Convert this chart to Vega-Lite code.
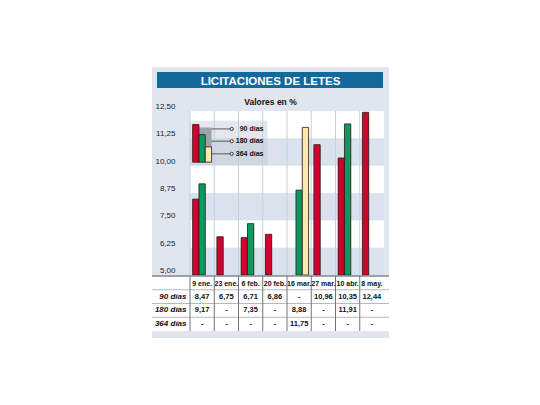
{
  "$schema": "https://vega.github.io/schema/vega-lite/v6.json",
  "width": 237,
  "height": 271,
  "autosize": {"type": "none"},
  "padding": {"left": 152, "top": 67, "right": 0, "bottom": 0},
  "background": "white",
  "config": {
    "view": {"fill": "#e1e6ee", "stroke": null},
    "font": "Liberation Sans",
    "locale": {"number": {"decimal": ",", "thousands": ".", "grouping": [3], "currency": ["", ""]}}
  },
  "title": {
    "text": "LICITACIONES DE LETES",
    "subtitle": "Valores en %",
    "anchor": "middle",
    "frame": "group",
    "offset": -39,
    "font": "Liberation Sans",
    "fontSize": 11.5,
    "fontWeight": "bold",
    "color": "white",
    "subtitleFont": "Liberation Sans",
    "subtitleFontSize": 8.5,
    "subtitleFontWeight": "bold",
    "subtitleColor": "#111111",
    "subtitlePadding": 10
  },
  "datasets": {
    "letes": [
      {"date": "9 ene.", "series": "90 días", "value": 8.47},
      {"date": "9 ene.", "series": "180 días", "value": 9.17},
      {"date": "9 ene.", "series": "364 días", "value": null},
      {"date": "23 ene.", "series": "90 días", "value": 6.75},
      {"date": "23 ene.", "series": "180 días", "value": null},
      {"date": "23 ene.", "series": "364 días", "value": null},
      {"date": "6 feb.", "series": "90 días", "value": 6.71},
      {"date": "6 feb.", "series": "180 días", "value": 7.35},
      {"date": "6 feb.", "series": "364 días", "value": null},
      {"date": "20 feb.", "series": "90 días", "value": 6.86},
      {"date": "20 feb.", "series": "180 días", "value": null},
      {"date": "20 feb.", "series": "364 días", "value": null},
      {"date": "16 mar.", "series": "90 días", "value": null},
      {"date": "16 mar.", "series": "180 días", "value": 8.88},
      {"date": "16 mar.", "series": "364 días", "value": 11.75},
      {"date": "27 mar.", "series": "90 días", "value": 10.96},
      {"date": "27 mar.", "series": "180 días", "value": null},
      {"date": "27 mar.", "series": "364 días", "value": null},
      {"date": "10 abr.", "series": "90 días", "value": 10.35},
      {"date": "10 abr.", "series": "180 días", "value": 11.91},
      {"date": "10 abr.", "series": "364 días", "value": null},
      {"date": "8 may.", "series": "90 días", "value": 12.44},
      {"date": "8 may.", "series": "180 días", "value": null},
      {"date": "8 may.", "series": "364 días", "value": null}
    ]
  },
  "data": {"name": "letes"},
  "resolve": {"scale": {"x": "independent", "y": "independent"}, "axis": {"x": "independent", "y": "independent"}},
  "layer": [
    {
      "transform": [{"filter": "datum.date === '9 ene.' && datum.series === '90 días'"}],
      "mark": {"type": "rect", "fill": "#12699a"},
      "encoding": {
        "x": {"datum": "bar", "type": "nominal", "scale": {"type": "band", "domain": ["bar"], "range": [5, 231], "paddingInner": 0, "paddingOuter": 0}, "axis": null},
        "y": {"datum": "bar", "type": "nominal", "scale": {"type": "band", "domain": ["bar"], "range": [5, 21], "paddingInner": 0, "paddingOuter": 0}, "axis": null}
      }
    },
    {
      "layer": [
        {
          "transform": [{"filter": "datum.series === '90 días'"}],
          "mark": {"type": "rect", "fill": "#ffffff"},
          "encoding": {
            "x": {"field": "date", "type": "nominal", "scale": {"type": "band", "domain": ["9 ene.", "23 ene.", "6 feb.", "20 feb.", "16 mar.", "27 mar.", "10 abr.", "8 may."], "range": [38, 232], "paddingInner": 0, "paddingOuter": 0}, "axis": null},
            "y": {"datum": 5, "type": "quantitative", "scale": {"domain": [5, 12.5], "range": [208, 44], "zero": false, "nice": false},
              "axis": {"orient": "left", "offset": -23, "values": [5, 6.25, 7.5, 8.75, 10, 11.25, 12.5], "format": ".2f", "labelPadding": 0, "ticks": false, "domain": false, "grid": false, "labelFontSize": 8, "labelColor": "#1a1a1a", "labelBaseline": "alphabetic", "labelOffset": -2.5, "labelOverlap": false, "title": null}},
            "y2": {"datum": 12.5}
          }
        },
        {
          "transform": [{"filter": "datum.series === '90 días'"}],
          "mark": {"type": "rect", "fill": "#d9e2ed"},
          "encoding": {"x": {"field": "date", "type": "nominal", "axis": null}, "y": {"datum": 5, "type": "quantitative"}, "y2": {"datum": 6.25}}
        },
        {
          "transform": [{"filter": "datum.series === '90 días'"}],
          "mark": {"type": "rect", "fill": "#d9e2ed"},
          "encoding": {"x": {"field": "date", "type": "nominal", "axis": null}, "y": {"datum": 7.5, "type": "quantitative"}, "y2": {"datum": 8.75}}
        },
        {
          "transform": [{"filter": "datum.series === '90 días'"}],
          "mark": {"type": "rect", "fill": "#d9e2ed"},
          "encoding": {"x": {"field": "date", "type": "nominal", "axis": null}, "y": {"datum": 10, "type": "quantitative"}, "y2": {"datum": 11.25}}
        },
        {
          "transform": [{"filter": "datum.series === '90 días'"}],
          "mark": {"type": "rule", "stroke": "#c0d2e6", "strokeWidth": 1},
          "encoding": {
            "x": {"field": "date", "type": "nominal", "bandPosition": 0, "axis": null},
            "y": {"datum": 5, "type": "quantitative"},
            "y2": {"datum": 12.5}
          }
        },
        {
          "transform": [{"filter": "datum.date === '9 ene.' && datum.series === '90 días'"}],
          "mark": {"type": "rect", "fill": "#c4cad4", "opacity": 0.45},
          "encoding": {
            "x": {"datum": "9 ene.", "type": "nominal", "bandPosition": 0, "axis": null},
            "x2": {"datum": "20 feb.", "bandPosition": 0.2},
            "y": {"datum": 12.05, "type": "quantitative"},
            "y2": {"datum": 10.03}
          }
        },
        {
          "transform": [{"filter": "datum.date === '9 ene.' && datum.series === '90 días'"}],
          "mark": {"type": "rule", "stroke": "#555a60", "strokeWidth": 1},
          "encoding": {"x": {"datum": "9 ene.", "type": "nominal", "bandPosition": 0.5, "axis": null}, "x2": {"datum": "23 ene.", "bandPosition": 0.72}, "y": {"datum": 11.68, "type": "quantitative"}}
        },
        {
          "transform": [{"filter": "datum.date === '9 ene.' && datum.series === '90 días'"}],
          "mark": {"type": "rule", "stroke": "#555a60", "strokeWidth": 1},
          "encoding": {"x": {"datum": "9 ene.", "type": "nominal", "bandPosition": 0.5, "axis": null}, "x2": {"datum": "23 ene.", "bandPosition": 0.72}, "y": {"datum": 11.12, "type": "quantitative"}}
        },
        {
          "transform": [{"filter": "datum.date === '9 ene.' && datum.series === '90 días'"}],
          "mark": {"type": "rule", "stroke": "#555a60", "strokeWidth": 1},
          "encoding": {"x": {"datum": "9 ene.", "type": "nominal", "bandPosition": 0.5, "axis": null}, "x2": {"datum": "23 ene.", "bandPosition": 0.72}, "y": {"datum": 10.54, "type": "quantitative"}}
        },
        {
          "transform": [{"filter": "isValid(datum.value)"}],
          "mark": {"type": "bar", "fill": "#9ea3ab", "xOffset": 3, "yOffset": 3},
          "encoding": {
            "x": {"field": "date", "type": "nominal", "axis": null},
            "xOffset": {"field": "series", "type": "nominal", "scale": {"domain": ["90 días", "180 días", "364 días"], "paddingInner": 0, "paddingOuter": 0.42}},
            "y": {"field": "value", "type": "quantitative", "title": null},
            "y2": {"datum": 5}
          }
        },
        {
          "transform": [{"filter": "isValid(datum.value)"}],
          "mark": {"type": "bar", "stroke": "#2b1b1b", "strokeWidth": 0.8},
          "encoding": {
            "x": {"field": "date", "type": "nominal", "axis": null},
            "xOffset": {"field": "series", "type": "nominal"},
            "y": {"field": "value", "type": "quantitative", "title": null},
            "y2": {"datum": 5},
            "fill": {"field": "series", "type": "nominal", "scale": {"domain": ["90 días", "180 días", "364 días"], "range": ["#d2002c", "#0a9a5e", "#fbe8ad"]}, "legend": null}
          }
        },
        {
          "transform": [{"filter": "datum.date === '9 ene.'"}],
          "mark": {"type": "bar", "fill": "#9ea3ab", "xOffset": 3, "yOffset": 3},
          "encoding": {
            "x": {"datum": "9 ene.", "type": "nominal", "axis": null},
            "xOffset": {"field": "series", "type": "nominal"},
            "y": {"datum": 11.88, "type": "quantitative"},
            "y2": {"datum": 10.16}
          }
        },
        {
          "transform": [{"filter": "datum.date === '9 ene.' && datum.series === '90 días'"}],
          "mark": {"type": "bar", "stroke": "#2b1b1b", "strokeWidth": 0.8},
          "encoding": {
            "x": {"datum": "9 ene.", "type": "nominal", "axis": null},
            "xOffset": {"field": "series", "type": "nominal"},
            "y": {"datum": 11.88, "type": "quantitative"},
            "y2": {"datum": 10.16},
            "fill": {"field": "series", "type": "nominal", "legend": null}
          }
        },
        {
          "transform": [{"filter": "datum.date === '9 ene.' && datum.series === '180 días'"}],
          "mark": {"type": "bar", "stroke": "#2b1b1b", "strokeWidth": 0.8},
          "encoding": {
            "x": {"datum": "9 ene.", "type": "nominal", "axis": null},
            "xOffset": {"field": "series", "type": "nominal"},
            "y": {"datum": 11.42, "type": "quantitative"},
            "y2": {"datum": 10.16},
            "fill": {"field": "series", "type": "nominal", "legend": null}
          }
        },
        {
          "transform": [{"filter": "datum.date === '9 ene.' && datum.series === '364 días'"}],
          "mark": {"type": "bar", "stroke": "#2b1b1b", "strokeWidth": 0.8},
          "encoding": {
            "x": {"datum": "9 ene.", "type": "nominal", "axis": null},
            "xOffset": {"field": "series", "type": "nominal"},
            "y": {"datum": 10.86, "type": "quantitative"},
            "y2": {"datum": 10.16},
            "fill": {"field": "series", "type": "nominal", "legend": null}
          }
        },
        {
          "transform": [{"filter": "datum.date === '9 ene.' && datum.series === '90 días'"}],
          "mark": {"type": "point", "shape": "circle", "size": 10, "filled": true, "fill": "white", "stroke": "#333333", "strokeWidth": 1, "opacity": 1},
          "encoding": {"x": {"datum": "23 ene.", "type": "nominal", "bandPosition": 0.72, "axis": null}, "y": {"datum": 11.68, "type": "quantitative"}}
        },
        {
          "transform": [{"filter": "datum.date === '9 ene.' && datum.series === '90 días'"}],
          "mark": {"type": "point", "shape": "circle", "size": 10, "filled": true, "fill": "white", "stroke": "#333333", "strokeWidth": 1, "opacity": 1},
          "encoding": {"x": {"datum": "23 ene.", "type": "nominal", "bandPosition": 0.72, "axis": null}, "y": {"datum": 11.12, "type": "quantitative"}}
        },
        {
          "transform": [{"filter": "datum.date === '9 ene.' && datum.series === '90 días'"}],
          "mark": {"type": "point", "shape": "circle", "size": 10, "filled": true, "fill": "white", "stroke": "#333333", "strokeWidth": 1, "opacity": 1},
          "encoding": {"x": {"datum": "23 ene.", "type": "nominal", "bandPosition": 0.72, "axis": null}, "y": {"datum": 10.54, "type": "quantitative"}}
        },
        {
          "transform": [{"filter": "datum.date === '9 ene.' && datum.series === '90 días'"}],
          "mark": {"type": "text", "align": "right", "baseline": "middle", "fontSize": 7, "fontWeight": "bold", "color": "#111111"},
          "encoding": {"x": {"datum": "20 feb.", "type": "nominal", "bandPosition": 0.03, "axis": null}, "y": {"datum": 11.68, "type": "quantitative"}, "text": {"field": "series", "type": "nominal"}}
        },
        {
          "transform": [{"filter": "datum.date === '9 ene.' && datum.series === '180 días'"}],
          "mark": {"type": "text", "align": "right", "baseline": "middle", "fontSize": 7, "fontWeight": "bold", "color": "#111111"},
          "encoding": {"x": {"datum": "20 feb.", "type": "nominal", "bandPosition": 0.03, "axis": null}, "y": {"datum": 11.12, "type": "quantitative"}, "text": {"field": "series", "type": "nominal"}}
        },
        {
          "transform": [{"filter": "datum.date === '9 ene.' && datum.series === '364 días'"}],
          "mark": {"type": "text", "align": "right", "baseline": "middle", "fontSize": 7, "fontWeight": "bold", "color": "#111111"},
          "encoding": {"x": {"datum": "20 feb.", "type": "nominal", "bandPosition": 0.03, "axis": null}, "y": {"datum": 10.54, "type": "quantitative"}, "text": {"field": "series", "type": "nominal"}}
        }
      ]
    },
    {
      "layer": [
        {
          "transform": [{"filter": "datum.date === '9 ene.'"}],
          "mark": {"type": "rect", "fill": "#ffffff"},
          "encoding": {
            "y": {"field": "series", "type": "nominal", "scale": {"type": "band", "domain": ["cab", "90 días", "180 días", "364 días"], "range": [209, 264], "paddingInner": 0, "paddingOuter": 0},
              "axis": {"orient": "left", "offset": -34, "labelAlign": "right", "labelPadding": 0, "ticks": false, "domain": false, "grid": false, "labelFont": "Liberation Sans", "labelFontSize": 8, "labelFontWeight": "bold", "labelFontStyle": "italic", "labelColor": "#111111", "labelOverlap": false, "labelExpr": "datum.value === 'cab' ? '' : datum.value", "title": null}}
          }
        },
        {
          "transform": [{"filter": "datum.date === '9 ene.' && datum.series === '90 días'"}],
          "mark": {"type": "rect", "fill": "#ffffff"},
          "encoding": {"y": {"datum": "cab", "type": "nominal"}}
        },
        {
          "transform": [{"filter": "datum.date === '9 ene.'"}],
          "mark": {"type": "rule", "stroke": "#b5bac2", "strokeWidth": 1},
          "encoding": {"y": {"field": "series", "type": "nominal", "bandPosition": 0}}
        },
        {
          "transform": [{"filter": "datum.date === '9 ene.' && datum.series === '90 días'"}],
          "mark": {"type": "rule", "stroke": "#80868e", "strokeWidth": 1.5},
          "encoding": {"y": {"datum": "cab", "type": "nominal", "bandPosition": 0}}
        },
        {
          "transform": [{"filter": "datum.series === '90 días'"}],
          "mark": {"type": "rule", "stroke": "#70757c", "strokeWidth": 1},
          "encoding": {
            "x": {"field": "date", "type": "nominal", "bandPosition": 0, "scale": {"type": "band", "domain": ["9 ene.", "23 ene.", "6 feb.", "20 feb.", "16 mar.", "27 mar.", "10 abr.", "8 may."], "range": [38, 232], "paddingInner": 0, "paddingOuter": 0}, "axis": null},
            "y": {"datum": "cab", "type": "nominal", "bandPosition": 0},
            "y2": {"datum": "364 días", "bandPosition": 1}
          }
        },
        {
          "transform": [{"filter": "datum.series === '90 días'"}],
          "mark": {"type": "text", "baseline": "middle", "font": "Liberation Sans", "fontSize": 7, "fontWeight": "bold", "color": "#111111", "dy": 1},
          "encoding": {
            "x": {"field": "date", "type": "nominal", "axis": null},
            "y": {"datum": "cab", "type": "nominal"},
            "text": {"field": "date", "type": "nominal"}
          }
        },
        {
          "mark": {"type": "text", "baseline": "middle", "font": "Liberation Sans", "fontSize": 7.5, "fontWeight": "bold", "color": "#111111"},
          "encoding": {
            "x": {"field": "date", "type": "nominal", "axis": null},
            "y": {"field": "series", "type": "nominal"},
            "text": {"condition": {"test": "!isValid(datum.value)", "value": "-"}, "field": "value", "type": "quantitative", "format": ".2f"}
          }
        }
      ]
    }
  ]
}
